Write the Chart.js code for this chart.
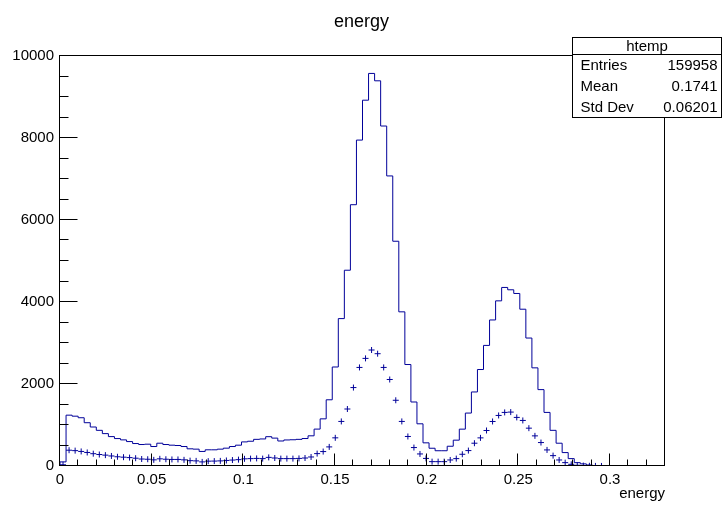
<!DOCTYPE html>
<html>
<head>
<meta charset="utf-8">
<script src="https://cdn.jsdelivr.net/npm/chart.js"></script>
<style>
  html, body { margin: 0; padding: 0; background: #fff; }
  #wrap { width: 723px; height: 508px; }
</style>
</head>
<body>
<div id="wrap"><canvas id="c" width="723" height="508"></canvas></div>
<script>
// binning of the histogram
const nBins = 100;
const xMin = 0;
const xMax = 0.33;

// htemp: bin contents (line histogram)
const histA = [
  100, 1240, 1215, 1177, 1056, 951, 870, 790, 717, 669,
  637, 596, 548, 524, 532, 475, 556, 524, 508, 500,
  475, 419, 411, 355, 395, 395, 411, 435, 475, 508,
  588, 604, 650, 660, 715, 680, 610, 635, 640, 650,
  670, 736, 900, 1150, 1615, 2415, 3595, 4775, 6373, 7949,
  8922, 9575, 9395, 8292, 7075, 5482, 3760, 2475, 1561, 1029,
  565, 433, 372, 372, 482, 630, 899, 1291, 1806, 2353,
  2941, 3562, 4028, 4355, 4298, 4208, 3824, 3121, 2394, 1863,
  1307, 870, 556, 327, 180, 82, 52, 25, 9, 5,
  3, 2, 1, 1, 0, 0, 0, 0, 0, 0
];

// second histogram drawn with markers ("same")
const histB = [
  30, 385, 375, 355, 330, 300, 280, 265, 245, 225,
  215, 205, 190, 170, 165, 150, 175, 165, 160, 160,
  150, 130, 125, 100, 118, 120, 125, 135, 145, 155,
  175, 180, 185, 180, 210, 195, 180, 180, 180, 185,
  195, 220, 302, 352, 466, 687, 1087, 1390, 1913, 2404,
  2625, 2829, 2739, 2404, 2110, 1603, 1087, 720, 450, 294,
  185, 106, 106, 106, 147, 180, 286, 376, 556, 686,
  866, 1086, 1233, 1307, 1315, 1185, 1111, 923, 735, 572,
  392, 253, 147, 82, 41, 18, 10, 5, 2, 1,
  0, 0, 0, 0, 0, 0, 0, 0, 0, 0
];

// axes
const xTicks = [0, 0.05, 0.1, 0.15, 0.2, 0.25, 0.3];
const xTickLabels = ["0", "0.05", "0.1", "0.15", "0.2", "0.25", "0.3"];
const xMinorDiv = 5;
const yTicks = [0, 2000, 4000, 6000, 8000, 10000];
const yTickLabels = ["0", "2000", "4000", "6000", "8000", "10000"];
const yMinorDiv = 4;
const yMax = 10000;

const titleText = "energy";
const xTitle = "energy";
const statsName = "htemp";
const statsRows = [["Entries", "159958"], ["Mean", "0.1741"], ["Std Dev", "0.06201"]];

const FONT = "'Liberation Sans', Arial, Helvetica, sans-serif";
const BLUE = "#000099";

const binW = (xMax - xMin) / nBins;

// step outline: left edge of each bin, then close at xMax
const stepPts = [{ x: xMin, y: 0 }];
histA.forEach((v, i) => stepPts.push({ x: xMin + i * binW, y: v }));
stepPts.push({ x: xMax, y: 0 });

const markPts = [];
histB.forEach((v, i) => { if (v > 0) markPts.push({ x: xMin + (i + 0.5) * binW, y: v }); });

const rootFrame = {
  id: "rootFrame",
  afterDatasetsDraw(chart) {
    const { ctx, chartArea: a, scales: { x, y } } = chart;
    const L = Math.round(a.left) - 0.5, R = Math.round(a.right) - 0.5;
    const T = Math.round(a.top) - 0.5, B = Math.round(a.bottom) - 0.5;
    ctx.save();
    ctx.strokeStyle = "#000";
    ctx.lineWidth = 1;
    ctx.beginPath();
    // x ticks (inside, upwards)
    const xMajLen = 12, xMinLen = 6;
    const xStep = xTicks[1] - xTicks[0];
    for (let k = 0; k * xStep / xMinorDiv <= xMax + 1e-9; k++) {
      const v = k * xStep / xMinorDiv;
      const px = Math.round(x.getPixelForValue(v)) - 0.5;
      const len = k % xMinorDiv === 0 ? xMajLen : xMinLen;
      ctx.moveTo(px, B);
      ctx.lineTo(px, B - len);
    }
    // y ticks (inside, rightwards)
    const yMajLen = 18, yMinLen = 9;
    const yStep = yTicks[1] - yTicks[0];
    for (let k = 0; k * yStep / yMinorDiv <= yMax + 1e-9; k++) {
      const v = k * yStep / yMinorDiv;
      const py = Math.round(y.getPixelForValue(v)) - 0.5;
      const len = k % yMinorDiv === 0 ? yMajLen : yMinLen;
      ctx.moveTo(L, py);
      ctx.lineTo(L + len, py);
    }
    ctx.stroke();
    ctx.strokeRect(L, T, R - L, B - T);
    ctx.restore();
  },
  afterDraw(chart) {
    const { ctx, chartArea: a } = chart;
    ctx.save();
    ctx.fillStyle = "#000";
    // title
    ctx.font = "18px " + FONT;
    ctx.textAlign = "center";
    ctx.textBaseline = "middle";
    ctx.fillText(titleText, 361.5, 22);
    // x axis title
    ctx.font = "15px " + FONT;
    ctx.textAlign = "right";
    ctx.fillText(xTitle, a.right, 494);
    // stats box
    const bx0 = 572.5, bx1 = 721.5, by0 = 37.5, head = 17, rowH = 21;
    const by1 = by0 + head + rowH * statsRows.length;
    ctx.fillStyle = "#fff";
    ctx.fillRect(bx0, by0, bx1 - bx0, by1 - by0);
    ctx.strokeStyle = "#000";
    ctx.lineWidth = 1;
    ctx.strokeRect(bx0, by0, bx1 - bx0, by1 - by0);
    ctx.beginPath();
    ctx.moveTo(bx0, by0 + head);
    ctx.lineTo(bx1, by0 + head);
    ctx.stroke();
    ctx.fillStyle = "#000";
    ctx.font = "15px " + FONT;
    ctx.textAlign = "center";
    ctx.fillText(statsName, (bx0 + bx1) / 2, by0 + head / 2 + 1);
    statsRows.forEach((r, i) => {
      const cy = by0 + head + rowH * (i + 0.5) + 1;
      ctx.textAlign = "left";
      ctx.fillText(r[0], bx0 + 8, cy);
      ctx.textAlign = "right";
      ctx.fillText(r[1], bx1 - 4, cy);
    });
    ctx.restore();
  }
};

new Chart(document.getElementById("c").getContext("2d"), {
  type: "line",
  data: {
    datasets: [
      {
        label: "htemp",
        data: stepPts,
        stepped: "before",
        borderColor: BLUE,
        borderWidth: 1,
        pointRadius: 0,
        fill: false,
        order: 2
      },
      {
        label: "markers",
        data: markPts,
        showLine: false,
        pointStyle: "cross",
        pointRadius: 3,
        borderColor: BLUE,
        backgroundColor: BLUE,
        pointBorderWidth: 1,
        order: 1
      }
    ]
  },
  options: {
    responsive: false,
    animation: false,
    devicePixelRatio: 1,
    layout: { padding: { left: 0, right: 58, top: 56, bottom: 0 } },
    plugins: { legend: { display: false }, tooltip: { enabled: false }, title: { display: false } },
    scales: {
      x: {
        type: "linear",
        min: xMin,
        max: xMax,
        grid: { display: false, drawTicks: false },
        border: { display: false },
        afterBuildTicks(s) { s.ticks = xTicks.map(v => ({ value: v })); },
        afterFit(s) { s.height = 42; },
        ticks: {
          padding: 5,
          maxRotation: 0,
          autoSkip: false,
          color: "#000",
          font: { family: FONT, size: 15 },
          callback: (v, i) => xTickLabels[i]
        }
      },
      y: {
        type: "linear",
        min: 0,
        max: yMax,
        grid: { display: false, drawTicks: false },
        border: { display: false },
        afterBuildTicks(s) { s.ticks = yTicks.map(v => ({ value: v })); },
        afterFit(s) { s.width = 60; },
        ticks: {
          padding: 6,
          autoSkip: false,
          color: "#000",
          font: { family: FONT, size: 15 },
          callback: (v, i) => yTickLabels[i]
        }
      }
    }
  },
  plugins: [rootFrame]
});
</script>
</body>
</html>
